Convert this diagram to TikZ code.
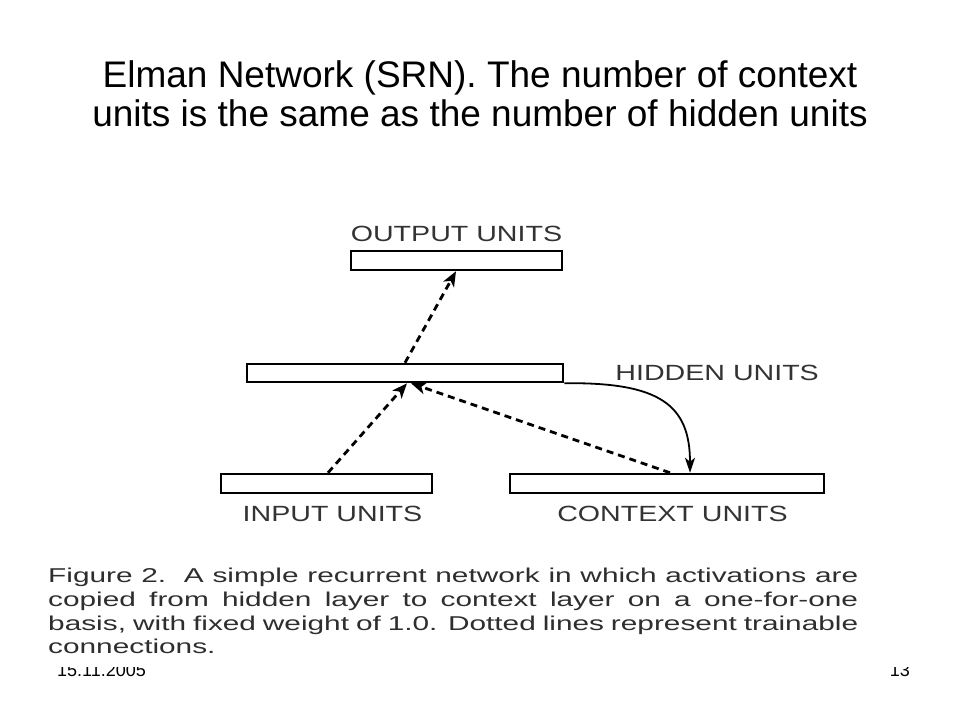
\documentclass[tikz,border=0pt]{standalone}
\usepackage{fontspec}
\setmainfont{Liberation Sans}
\newfontfamily\unitsfont[FakeStretch=1.3]{Liberation Sans}
\newfontfamily\capfont[FakeStretch=1.49]{Liberation Sans}
\usepackage{tikz}
\usetikzlibrary{arrows.meta}
\usetikzlibrary{positioning,calc}
\definecolor{labelgray}{gray}{0.2}
\definecolor{captiongray}{gray}{0.18}

\tikzset{
	unitbox/.style={draw, line width=2.5pt, inner sep=0pt, minimum height=19pt},
	unitlabel/.style={inner sep=0pt, text=labelgray, font=\unitsfont\fontsize{22}{24}\selectfont},
	trainable/.style={line width=2.8pt, dash pattern=on 7pt off 5pt, -{Stealth[length=15pt,width=12pt,inset=4pt]}},
	copyline/.style={line width=1.8pt, -{Stealth[length=15pt,width=10pt,inset=4pt]}},
}

\begin{document}
\begin{tikzpicture}[x=1pt,y=-1pt]
\useasboundingbox[fill=white] (0,0) rectangle (960,720);

\node[font=\fontsize{37}{39}\selectfont, align=center, anchor=base] (title) at (480,126)
{Elman Network (SRN). The number of context\\units is the same as the number of hidden units};

% layers
\node[unitbox, minimum width=211pt] (out) at (456.5,260.5) {};
\node[unitbox, minimum width=316pt, minimum height=18pt] (hid) at (405,373) {};
\node[unitbox, minimum width=211pt] (inp) at (326.5,483.5) {};
\node[unitbox, minimum width=314pt] (ctx) at (667,483.5) {};

\node[unitlabel, above=8pt of out] (outlabel) {OUTPUT UNITS};
\node[unitlabel, right=51pt of hid] (hidlabel) {HIDDEN UNITS};
\node[unitlabel, below=12pt of inp, xshift=6pt] (inplabel) {INPUT UNITS};
\node[unitlabel, below=12pt of ctx, xshift=5.5pt] (ctxlabel) {CONTEXT UNITS};

\path[trainable]
(hid.north) edge ([xshift=-0.5pt]out.south)
([xshift=1.5pt]inp.north) edge ([xshift=2pt]hid.south)
([xshift=3pt]ctx.north) edge ([xshift=6pt]hid.south)
;
\draw[copyline] (hid.south east) .. controls (660,382) and (690,405) .. ([xshift=23pt]ctx.north);

% footer, half hidden under the caption
\node[anchor=base west, inner sep=0pt, font=\fontsize{18}{20}\selectfont] (date) at (57,676) {15.11.2005};
\node[anchor=base east, inner sep=0pt, font=\fontsize{18}{20}\selectfont] (page) at (910,676) {13};
\fill[white] (40,553) rectangle (930,667);

\node[anchor=north west, inner sep=0pt, text width=810pt, align=justify, text=captiongray,
font=\capfont\fontsize{20}{23.7}\selectfont] (caption) at (48,568)
{Figure 2.\ \ A simple recurrent network in which activations are\linebreak
copied from hidden layer to context layer on a one-for-one\linebreak
basis, with fixed weight of 1.0. Dotted lines represent trainable\linebreak
connections.};
\end{tikzpicture}
\end{document}
